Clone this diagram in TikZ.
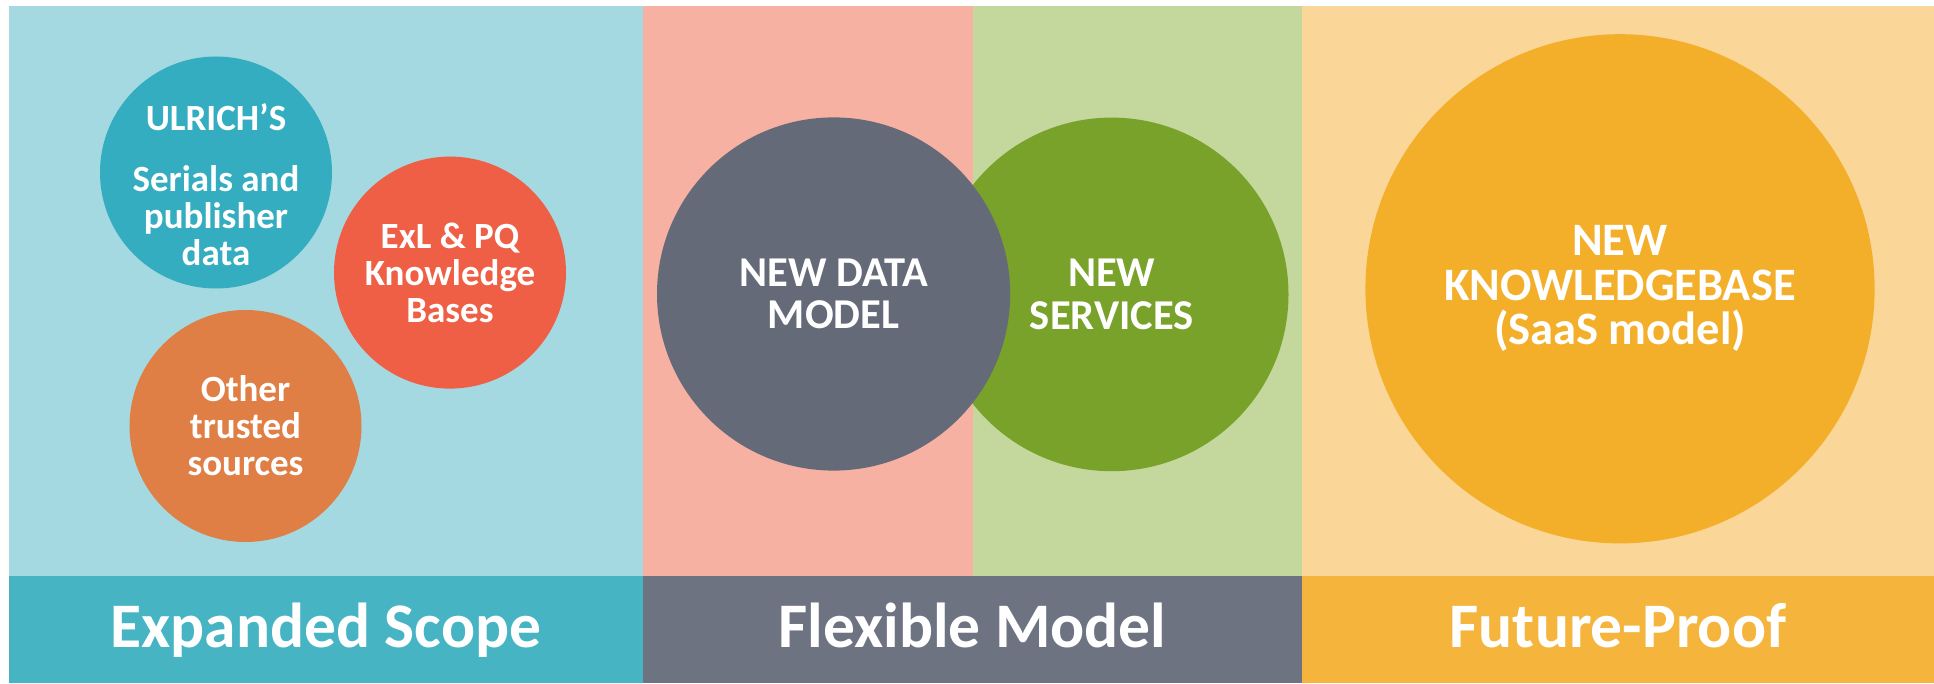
\documentclass[tikz,border=0pt]{standalone}
\usepackage{fontspec}
\setmainfont{Carlito}

\definecolor{scopebg}{HTML}{A4D9E1}
\definecolor{scopebar}{HTML}{46B4C3}
\definecolor{ulrichc}{HTML}{33ADBF}
\definecolor{exlc}{HTML}{EE5F45}
\definecolor{otherc}{HTML}{DF7F45}
\definecolor{modelbg}{HTML}{F6B1A3}
\definecolor{servbg}{HTML}{C4D89D}
\definecolor{modelbar}{HTML}{6E7382}
\definecolor{datac}{HTML}{646A78}
\definecolor{servc}{HTML}{79A22A}
\definecolor{futurebg}{HTML}{FAD799}
\definecolor{futurebar}{HTML}{F5B43C}
\definecolor{kbc}{HTML}{F3AF29}

\begin{document}
\begin{tikzpicture}[x=1pt,y=1pt]
	\tikzset{ball/.style={circle,inner sep=0pt,draw=none}}
	\tikzset{balltext/.style={text=white,align=center,inner sep=0pt}}
	\tikzset{bartext/.style={text=white,anchor=base,font=\fontsize{63.5}{63.5}\selectfont\bfseries}}

	\useasboundingbox (0,0) rectangle (1934,683);

	% backgrounds and bars
	\fill[scopebg] (9,107) rectangle (643,676.5);
	\fill[modelbg] (643,107) rectangle (973,676.5);
	\fill[servbg] (973,107) rectangle (1302,676.5);
	\fill[futurebg] (1302,107) rectangle (1934,676.5);
	\fill[scopebar] (9,0) rectangle (643,107);
	\fill[modelbar] (643,0) rectangle (1302,107);
	\fill[futurebar] (1302,0) rectangle (1934,107);

	\node[bartext] (scope) at (326,36) {Expanded Scope};
	\node[bartext] (flex) at (972.5,36) {Flexible Model};
	\node[bartext] (future) at (1618,36) {Future-Proof};

	% expanded scope
	\begin{scope}[every node/.append style={font=\fontsize{37}{37}\selectfont\bfseries}]
	    \node[ball,fill=ulrichc,minimum size=232pt] (ulrich) at (216,510.5) {};
	    \node[ball,fill=exlc,minimum size=232pt] (exl) at (450,410.4) {};
	    \node[ball,fill=otherc,minimum size=232pt] (other) at (245.5,257) {};
	    \node[balltext] (ulrichtxt) at ([yshift=-12pt]ulrich.center)
	        {ULRICH’S\\[23.5pt] Serials and\\ publisher\\ data};
	    \node[balltext] (exltxt) at (exl.center) {ExL \& PQ\\ Knowledge\\ Bases};
	    \node[balltext] (othertxt) at (other.center) {Other\\ trusted\\ sources};
	\end{scope}

	% flexible model
	\begin{scope}[every node/.append style={font=\fontsize{42.5}{42.2}\selectfont\bfseries}]
	    \node[ball,fill=servc,minimum size=353.6pt] (serv) at (1111.7,388.6) {};
	    \node[ball,fill=datac,minimum size=353.2pt] (data) at (833.6,389) {};
	    \node[balltext] (datatxt) at (data.center) {NEW DATA\\ MODEL};
	    \node[balltext] (servtxt) at (serv.center) {NEW\\ SERVICES};
	\end{scope}

	% future-proof
	\begin{scope}[every node/.append style={font=\fontsize{46.5}{44.5}\selectfont\bfseries}]
	    \node[ball,fill=kbc,minimum size=509.2pt] (kb) at (1620,394.2) {};
	    \node[balltext] (kbtxt) at (kb.center) {NEW\\ KNOWLEDGEBASE\\ (SaaS model)};
	\end{scope}

\end{tikzpicture}
\end{document}
